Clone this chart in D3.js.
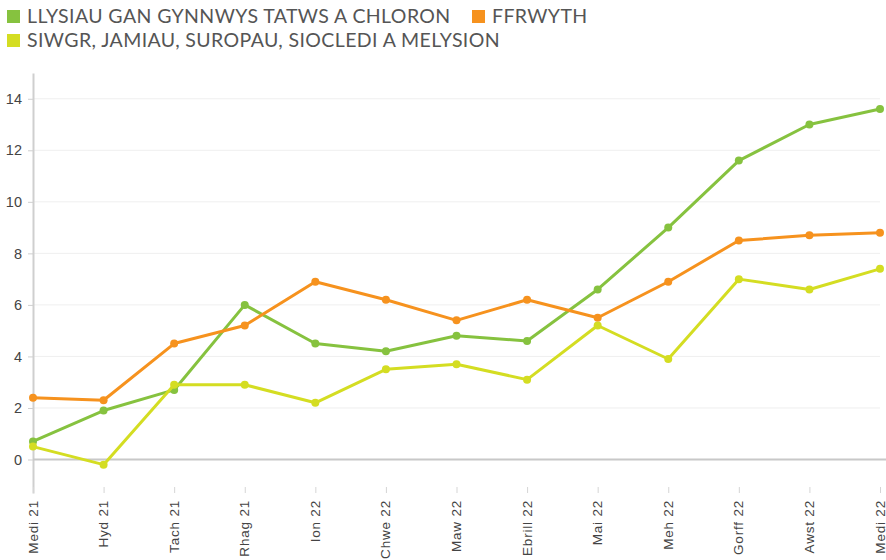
<!DOCTYPE html>
<html>
<head>
<meta charset="utf-8">
<script src="https://cdn.jsdelivr.net/npm/d3@7"></script>
<style>
  body { margin: 0; background: #fff; }
  svg { display: block; font-family: "Lato", "Open Sans", sans-serif; }
</style>
</head>
<body>
<svg id="chart" width="886" height="560"></svg>
<script>
// months on the x axis
const months = ["Medi 21", "Hyd 21", "Tach 21", "Rhag 21", "Ion 22", "Chwe 22", "Maw 22",
  "Ebrill 22", "Mai 22", "Meh 22", "Gorff 22", "Awst 22", "Medi 22"];

const seriesNames = ["LLYSIAU GAN GYNNWYS TATWS A CHLORON", "FFRWYTH",
  "SIWGR, JAMIAU, SUROPAU, SIOCLEDI A MELYSION"];
const seriesColors = ["#86c23f", "#f6921e", "#d4dd22"];

const vegValues = [0.7, 1.9, 2.7, 6.0, 4.5, 4.2, 4.8, 4.6, 6.6, 9.0, 11.6, 13.0, 13.6];
const fruitValues = [2.4, 2.3, 4.5, 5.2, 6.9, 6.2, 5.4, 6.2, 5.5, 6.9, 8.5, 8.7, 8.8];
const sugarValues = [0.5, -0.2, 2.9, 2.9, 2.2, 3.5, 3.7, 3.1, 5.2, 3.9, 7.0, 6.6, 7.4];

const yTicks = [0, 2, 4, 6, 8, 10, 12, 14];

const series = [vegValues, fruitValues, sugarValues].map((v, i) => ({
  name: seriesNames[i], color: seriesColors[i], values: v
}));

const svg = d3.select("#chart");
const margin = { left: 33, right: 6, top: 73, bottom: 67 };
const width = 886, height = 560;

const x = d3.scalePoint().domain(months).range([margin.left, 880]);
const y = d3.scaleLinear().domain([-1.3, 15]).range([height - margin.bottom, margin.top]);

// gridlines
svg.append("g")
  .selectAll("line")
  .data(yTicks.filter(d => d !== 0))
  .enter()
  .append("line")
  .attr("x1", margin.left).attr("x2", 880)
  .attr("y1", d => y(d)).attr("y2", d => y(d))
  .attr("stroke", "#efefef")
  .attr("stroke-width", 1);

// y axis
const yAxis = svg.append("g")
  .attr("transform", `translate(${margin.left},0)`)
  .call(d3.axisLeft(y).tickValues(yTicks).tickSizeInner(5).tickSizeOuter(0)
    .tickPadding(6).tickFormat(d3.format("d")));
yAxis.select(".domain").attr("stroke", "#cfcfcf").attr("stroke-width", 2);
yAxis.selectAll(".tick line").attr("stroke", "#cfcfcf");
yAxis.selectAll(".tick text").attr("fill", "#444").style("font-size", "14.5px");

// zero line
svg.append("line")
  .attr("x1", margin.left).attr("x2", 886)
  .attr("y1", y(0)).attr("y2", y(0))
  .attr("stroke", "#c8c8c8").attr("stroke-width", 2);

// x axis
const xAxis = svg.append("g")
  .attr("transform", `translate(0,${height - margin.bottom - 6})`)
  .call(d3.axisBottom(x).tickSizeInner(6).tickSizeOuter(0));
xAxis.select(".domain").remove();
xAxis.selectAll(".tick line").attr("stroke", "#d5d5d5");
xAxis.selectAll(".tick text")
  .attr("fill", "#444")
  .style("font-size", "13.5px")
  .style("letter-spacing", "0.8px")
  .attr("text-anchor", "end")
  .attr("transform", "rotate(-90)")
  .attr("x", -13)
  .attr("y", 0)
  .attr("dy", "0.3em");

// lines and points
const line = d3.line()
  .x((d, i) => x(months[i]))
  .y(d => y(d));

const g = svg.append("g");
series.forEach(s => {
  g.append("path")
    .datum(s.values)
    .attr("fill", "none")
    .attr("stroke", s.color)
    .attr("stroke-width", 3)
    .attr("stroke-linejoin", "round")
    .attr("d", line);
  g.selectAll(null)
    .data(s.values)
    .enter()
    .append("circle")
    .attr("cx", (d, i) => x(months[i]))
    .attr("cy", d => y(d))
    .attr("r", 4)
    .attr("fill", s.color);
});

// legend
const legendPos = [[7, 10], [472, 10], [7, 34]];
const legend = svg.append("g");
series.forEach((s, i) => {
  const [lx, ly] = legendPos[i];
  legend.append("rect")
    .attr("x", lx).attr("y", ly).attr("width", 13).attr("height", 13)
    .attr("fill", s.color);
  legend.append("text")
    .attr("x", lx + 20).attr("y", ly + 13)
    .attr("fill", "#555")
    .style("font-size", "19.5px")
    .style("letter-spacing", "0.4px")
    .text(s.name);
});
</script>
</body>
</html>
